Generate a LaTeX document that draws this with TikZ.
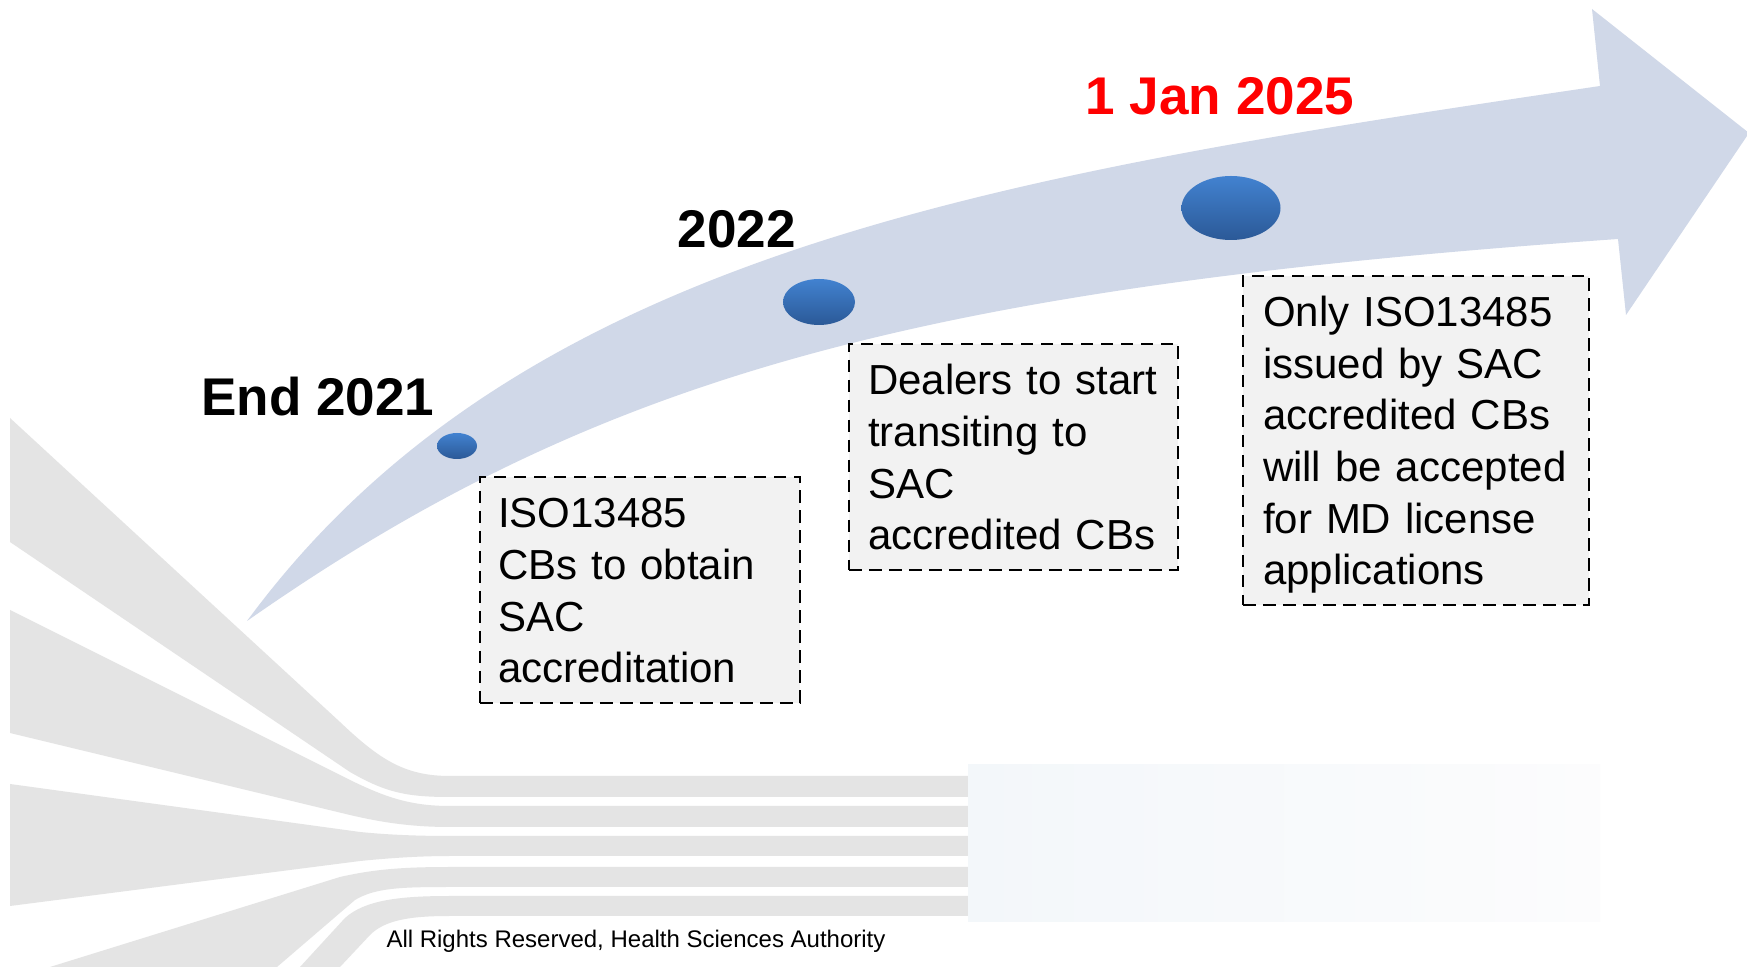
\documentclass[tikz,border=0pt]{standalone}
\usepackage{fontspec}
\setmainfont{Liberation Sans}
\usetikzlibrary{shapes.geometric}
\hyphenpenalty=10000
\definecolor{arrowblue}{HTML}{D0D8E8}
\definecolor{stripegray}{HTML}{E4E4E4}
\definecolor{boxgray}{HTML}{F2F2F2}
\definecolor{dottop}{HTML}{4282D0}
\definecolor{dotbottom}{HTML}{2B5997}
\definecolor{panelleft}{HTML}{F3F7FA}
\definecolor{panelright}{HTML}{FCFCFD}
\tikzset{
 milestone/.style={ellipse,inner sep=0pt,top color=dottop,bottom color=dotbottom},
 yearlabel/.style={font=\fontsize{15.1}{18}\selectfont\bfseries,anchor=base,inner sep=0pt},
 notebox/.style={draw=black,line width=0.57pt,dash pattern=on 1.25mm off 0.75mm,fill=boxgray,align=left,inner ysep=0pt,
  font=\fontsize{11.95}{14.71}\selectfont,execute at begin node={\rule{0pt}{4.6mm}},execute at end node={\strut}}
}
\begin{document}
\begin{tikzpicture}[x=0.1mm,y=-0.1mm]
\useasboundingbox[fill=white] (0,0) rectangle (1747,967);
% grey fan in the lower left
\fill[stripegray] (10,418) -- (340,722) .. controls (380,760) and (405,776) .. (450,776) -- (970,776) -- (970,797) -- (450,797) .. controls (405,797) and (385,792) .. (350,772) -- (10,542) -- cycle;
\fill[stripegray] (10,610) -- (350,780) .. controls (385,797) and (410,806) .. (450,806) -- (970,806) -- (970,827) -- (450,827) .. controls (410,827) and (380,822) .. (350,815) -- (10,733) -- cycle;
\fill[stripegray] (10,784) -- (360,832) .. controls (390,835) and (420,836) .. (450,836) -- (970,836) -- (970,856) -- (450,856) .. controls (420,856) and (390,858) .. (360,861) -- (10,906) -- cycle;
\fill[stripegray] (50,967) -- (340,877) .. controls (375,869) and (405,867) .. (450,867) -- (970,867) -- (970,887) -- (450,887) .. controls (400,887) and (375,888) .. (355,900) -- (277,967) -- cycle;
\fill[stripegray] (300,967) -- (345,918) .. controls (365,900) and (400,896) .. (450,896) -- (970,896) -- (970,916) -- (450,916) .. controls (410,916) and (385,920) .. (370,935) -- (340,967) -- cycle;
\shade[left color=panelleft,right color=panelright] (968,765) rectangle (1600,922);
% curved arrow
\fill[arrowblue] (247,621) .. controls (520,250) and (1000,175) .. (1600,86) -- (1592,9) -- (1749,133) -- (1626,315) -- (1618,239) .. controls (918,288) and (597,376) .. (247,621) -- cycle;
\node[milestone,minimum width=4mm,minimum height=2.6mm] (dot21) at (457,446) {};
\node[milestone,minimum width=7.2mm,minimum height=4.6mm] (dot22) at (819,302) {};
\node[milestone,minimum width=9.9mm,minimum height=6.4mm] (dot25) at (1231,208) {};
\node[yearlabel] (lab21) at (318,416) {End 2021};
\node[yearlabel] (lab22) at (737,248) {2022};
\node[yearlabel,text=red] (lab25) at (1220,115) {1 Jan 2025};
\node[notebox,minimum width=32mm,minimum height=22.6mm,text width=28.4mm,inner xsep=1.8mm] (box21) at (640,590) {ISO13485\\CBs to obtain\\SAC\\accreditation};
\node[notebox,minimum width=32.9mm,minimum height=22.6mm,text width=29.1mm,inner xsep=1.9mm] (box22) at (1013.5,457) {Dealers to start\\transiting to\\SAC\\accredited CBs};
\node[notebox,minimum width=34.6mm,minimum height=32.9mm,text width=30.6mm,inner xsep=2mm] (box25) at (1416,440.5) {Only ISO13485\\issued by SAC\\accredited CBs\\will be accepted\\for MD license\\applications};
\node[font=\fontsize{6.83}{8}\selectfont,anchor=base,inner sep=0pt] (rights) at (636,948) {All Rights Reserved, Health Sciences Authority};
\end{tikzpicture}
\end{document}
